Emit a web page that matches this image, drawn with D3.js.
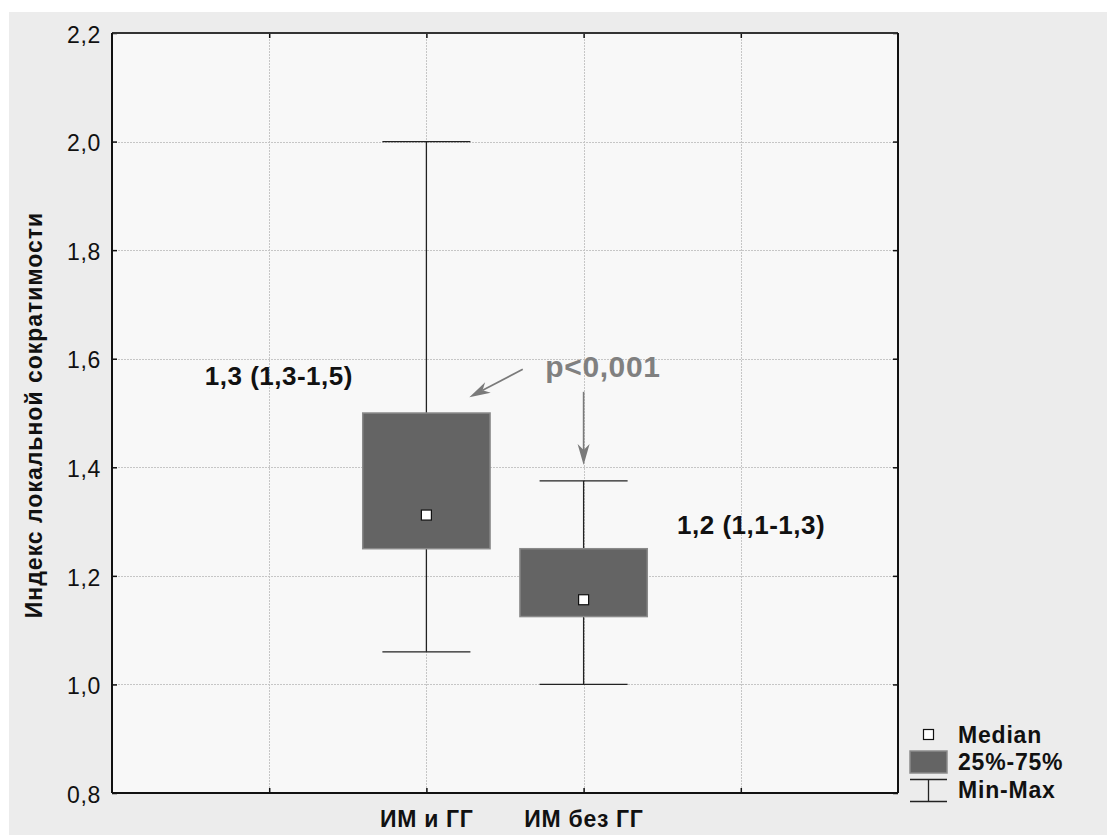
<!DOCTYPE html>
<html>
<head>
<meta charset="utf-8">
<script src="https://cdn.jsdelivr.net/npm/d3@7"></script>
<style>
  html, body { margin: 0; padding: 0; background: #ffffff; }
  svg { display: block; font-family: "Liberation Sans", Arial, sans-serif; }
</style>
</head>
<body>
<svg id="chart" width="1107" height="836"></svg>
<script>
// Box-plot summary: median, quartiles and range per group
const categories = ["ИМ и ГГ", "ИМ без ГГ"];
const categoryPos = [2, 3];
const medians = [1.312, 1.156];
const q1 = [1.25, 1.125];
const q3 = [1.5, 1.25];
const mins = [1.06, 1.0];
const maxs = [2.0, 1.375];
const summaryLabels = ["1,3 (1,3-1,5)", "1,2 (1,1-1,3)"];
const yTicks = [0.8, 1.0, 1.2, 1.4, 1.6, 1.8, 2.0, 2.2];
const xGrid = [1, 2, 3, 4];
const legendLabels = ["Median", "25%-75%", "Min-Max"];

const svg = d3.select("#chart");
const frame = { left: 112, top: 33, right: 898, bottom: 793 };

const x = d3.scaleLinear().domain([0, 5]).range([frame.left, frame.right]);
const y = d3.scaleLinear().domain([0.8, 2.2]).range([frame.bottom, frame.top]);
const fmt = v => d3.format(".1f")(v).replace(".", ",");

const boxFill = "#646464", boxStroke = "#8a8a8a";

// outer panel and plot area
svg.append("rect").attr("x", 9).attr("y", 12).attr("width", 1098).attr("height", 823).attr("fill", "#ececec");
svg.append("rect").attr("x", frame.left).attr("y", frame.top)
  .attr("width", frame.right - frame.left).attr("height", frame.bottom - frame.top).attr("fill", "#f8f8f8");

// grid
const grid = svg.append("g").attr("stroke", "#c6c6c6").attr("stroke-width", 1).attr("stroke-dasharray", "2,1");
grid.selectAll("line.h").data(yTicks.slice(1, -1)).join("line").attr("class", "h")
  .attr("x1", frame.left).attr("x2", frame.right)
  .attr("y1", d => Math.round(y(d)) + 0.5).attr("y2", d => Math.round(y(d)) + 0.5);
grid.selectAll("line.v").data(xGrid).join("line").attr("class", "v")
  .attr("y1", frame.top).attr("y2", frame.bottom)
  .attr("x1", d => Math.round(x(d)) + 0.5).attr("x2", d => Math.round(x(d)) + 0.5);

// axes with inward ticks
const yAxisL = d3.axisLeft(y).tickValues(yTicks).tickSize(-5).tickPadding(12).tickFormat(fmt);
const gy = svg.append("g").attr("transform", `translate(${frame.left},0)`).call(yAxisL);
gy.select(".domain").remove();
gy.selectAll(".tick line").attr("stroke", "#111").attr("stroke-width", 1.5);
gy.selectAll(".tick text").attr("font-size", 23).attr("fill", "#111").attr("letter-spacing", 0.7)
  .attr("font-family", "Liberation Sans, Arial, sans-serif").attr("dy", "0.40em").attr("x", -11);

const yAxisR = d3.axisRight(y).tickValues(yTicks).tickSize(-5).tickFormat("");
const gyr = svg.append("g").attr("transform", `translate(${frame.right},0)`).call(yAxisR);
gyr.select(".domain").remove();
gyr.selectAll(".tick line").attr("stroke", "#111").attr("stroke-width", 1.5);

const xAxisB = d3.axisBottom(x).tickValues(xGrid).tickSize(-5).tickFormat("");
const gxb = svg.append("g").attr("transform", `translate(0,${frame.bottom})`).call(xAxisB);
gxb.select(".domain").remove();
gxb.selectAll(".tick line").attr("stroke", "#111").attr("stroke-width", 1.5);

const xAxisT = d3.axisTop(x).tickValues(xGrid).tickSize(-5).tickFormat("");
const gxt = svg.append("g").attr("transform", `translate(0,${frame.top})`).call(xAxisT);
gxt.select(".domain").remove();
gxt.selectAll(".tick line").attr("stroke", "#111").attr("stroke-width", 1.5);

// frame
svg.append("line").attr("x1", frame.left).attr("x2", frame.right).attr("y1", frame.top).attr("y2", frame.top)
  .attr("stroke", "#333").attr("stroke-width", 2);
svg.append("line").attr("x1", frame.right).attr("x2", frame.right).attr("y1", frame.top).attr("y2", frame.bottom)
  .attr("stroke", "#111").attr("stroke-width", 2);
svg.append("line").attr("x1", frame.left).attr("x2", frame.right).attr("y1", frame.bottom).attr("y2", frame.bottom)
  .attr("stroke", "#111").attr("stroke-width", 2);
svg.append("line").attr("x1", frame.left).attr("x2", frame.left).attr("y1", frame.top).attr("y2", frame.bottom)
  .attr("stroke", "#111").attr("stroke-width", 2);

// category labels
svg.selectAll("text.cat").data(categories).join("text").attr("class", "cat")
  .attr("x", (d, i) => x(categoryPos[i]) + 0.35).attr("y", 827)
  .attr("text-anchor", "middle").attr("font-size", 23).attr("font-weight", "bold").attr("fill", "#111")
  .attr("letter-spacing", 0.7)
  .text(d => d);

// y axis title
svg.append("text").attr("transform", "translate(42,415) rotate(-90)")
  .attr("text-anchor", "middle").attr("font-size", 23).attr("font-weight", "bold").attr("fill", "#111")
  .attr("letter-spacing", 1.0)
  .text("Индекс локальной сократимости");

// boxes
const boxHalf = 0.405, capHalf = 0.28;
const groups = svg.selectAll("g.box").data(categories).join("g").attr("class", "box");
groups.append("line")
  .attr("x1", (d, i) => x(categoryPos[i])).attr("x2", (d, i) => x(categoryPos[i]))
  .attr("y1", (d, i) => y(mins[i])).attr("y2", (d, i) => y(maxs[i]))
  .attr("stroke", "#222").attr("stroke-width", 1.3);
groups.append("line")
  .attr("x1", (d, i) => x(categoryPos[i] - capHalf)).attr("x2", (d, i) => x(categoryPos[i] + capHalf))
  .attr("y1", (d, i) => y(mins[i])).attr("y2", (d, i) => y(mins[i]))
  .attr("stroke", "#222").attr("stroke-width", 1.3);
groups.append("line")
  .attr("x1", (d, i) => x(categoryPos[i] - capHalf)).attr("x2", (d, i) => x(categoryPos[i] + capHalf))
  .attr("y1", (d, i) => y(maxs[i])).attr("y2", (d, i) => y(maxs[i]))
  .attr("stroke", "#222").attr("stroke-width", 1.3);
groups.append("rect")
  .attr("x", (d, i) => x(categoryPos[i] - boxHalf))
  .attr("width", (d, i) => x(categoryPos[i] + boxHalf) - x(categoryPos[i] - boxHalf))
  .attr("y", (d, i) => y(q3[i])).attr("height", (d, i) => y(q1[i]) - y(q3[i]))
  .attr("fill", boxFill).attr("stroke", boxStroke).attr("stroke-width", 1.5);
groups.append("rect")
  .attr("x", (d, i) => x(categoryPos[i]) - 5).attr("y", (d, i) => y(medians[i]) - 5)
  .attr("width", 10).attr("height", 10)
  .attr("fill", "#ffffff").attr("stroke", "#111").attr("stroke-width", 1.2);

// summary annotations
const labelPos = [[1.06, 1.552], [4.064, 1.277]];
svg.selectAll("text.summary").data(summaryLabels).join("text").attr("class", "summary")
  .attr("x", (d, i) => x(labelPos[i][0]) + 0.25).attr("y", (d, i) => y(labelPos[i][1]))
  .attr("text-anchor", "middle").attr("font-size", 26).attr("font-weight", "bold").attr("fill", "#111")
  .attr("letter-spacing", 0.5)
  .text(d => d);

// significance note with arrows
const noteColor = "#7a7a7a";
svg.append("text").attr("x", x(3.123)).attr("y", y(1.566))
  .attr("text-anchor", "middle").attr("font-size", 30).attr("font-weight", "bold").attr("fill", "#808080")
  .attr("letter-spacing", 0.6)
  .text("p<0,001");

const arrows = [
  { from: [2.613, 1.5805], to: [2.273, 1.529] },
  { from: [3.0, 1.539], to: [3.0, 1.404] }
];
arrows.forEach(a => {
  const x1 = x(a.from[0]), y1 = y(a.from[1]), x2 = x(a.to[0]), y2 = y(a.to[1]);
  const ang = Math.atan2(y2 - y1, x2 - x1);
  const len = 21, half = 6, notch = 15;
  const pt = (d, s) => [x2 - d * Math.cos(ang) - s * Math.sin(ang), y2 - d * Math.sin(ang) + s * Math.cos(ang)];
  const bx = pt(notch, 0);
  svg.append("line").attr("x1", x1).attr("y1", y1).attr("x2", bx[0]).attr("y2", bx[1])
    .attr("stroke", noteColor).attr("stroke-width", 1.6);
  svg.append("path")
    .attr("d", d3.line()([[x2, y2], pt(len, half), pt(notch, 0), pt(len, -half)]) + "Z")
    .attr("fill", noteColor);
});

// legend
const lg = svg.append("g");
lg.append("rect").attr("x", 923.5).attr("y", 729.5).attr("width", 10).attr("height", 10)
  .attr("fill", "#fff").attr("stroke", "#111").attr("stroke-width", 1.2);
lg.append("rect").attr("x", 910).attr("y", 751).attr("width", 37).attr("height", 22)
  .attr("fill", boxFill).attr("stroke", boxStroke).attr("stroke-width", 1.5);
lg.append("line").attr("x1", 910).attr("x2", 947).attr("y1", 779.5).attr("y2", 779.5).attr("stroke", "#222").attr("stroke-width", 1.3);
lg.append("line").attr("x1", 910).attr("x2", 947).attr("y1", 801.5).attr("y2", 801.5).attr("stroke", "#222").attr("stroke-width", 1.3);
lg.append("line").attr("x1", 928.5).attr("x2", 928.5).attr("y1", 779.5).attr("y2", 801.5).attr("stroke", "#222").attr("stroke-width", 1.3);
lg.selectAll("text").data(legendLabels).join("text")
  .attr("x", 958).attr("y", (d, i) => [742.5, 770, 798][i])
  .attr("font-size", 23).attr("font-weight", "bold").attr("fill", "#111")
  .attr("letter-spacing", 0.8)
  .text(d => d);
</script>
</body>
</html>
